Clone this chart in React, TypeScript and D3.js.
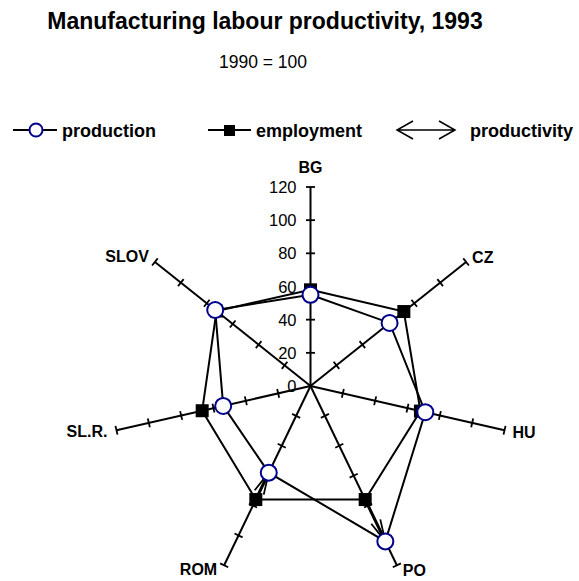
import React from "react";
import * as d3 from "d3";

const width = 579;
const height = 581;

// radar categories, clockwise from the top
const categories = ["BG", "CZ", "HU", "PO", "ROM", "SL.R.", "SLOV"];
// 1990 = 100
const production = [55, 61, 71, 104, 58, 54, 73.5];
const employment = [58, 72, 68, 76, 76, 67, 72.5];
// arrows drawn only where the change is large
const arrowCats = ["PO", "ROM"];
const ticks = [0, 20, 40, 60, 80, 100, 120];

const cx = 310.5;
const cy = 386;
const radius = 199;
const font = "'Liberation Sans', Arial, sans-serif";

const App = () => {
  const r = d3.scaleLinear().domain([0, 120]).range([0, radius]);
  const angle = d3.scalePoint().domain(categories).range([0, (2 * Math.PI * 6) / 7]);

  const pt = (cat: string, v: number): [number, number] => {
    const a = angle(cat)!;
    return [cx + r(v) * Math.sin(a), cy - r(v) * Math.cos(a)];
  };

  const line = d3.line().curve(d3.curveLinearClosed);
  const prodPts = categories.map((c, i) => pt(c, production[i]));
  const empPts = categories.map((c, i) => pt(c, employment[i]));

  // label offsets from the end of each axis
  const labelPos: Record<string, { dx: number; dy: number; anchor: string }> = {
    BG: { dx: 0, dy: -14, anchor: "middle" },
    CZ: { dx: 6, dy: 1, anchor: "start" },
    HU: { dx: 8, dy: 8, anchor: "start" },
    PO: { dx: 6, dy: 11, anchor: "start" },
    ROM: { dx: -7, dy: 10, anchor: "end" },
    "SL.R.": { dx: -9, dy: 7, anchor: "end" },
    SLOV: { dx: -6, dy: 0, anchor: "end" },
  };

  const arrowHead = (from: [number, number], to: [number, number], len: number, half: number) => {
    const dx = to[0] - from[0];
    const dy = to[1] - from[1];
    const d = Math.hypot(dx, dy);
    const ux = dx / d, uy = dy / d;
    const bx = to[0] - ux * len, by = to[1] - uy * len;
    return [
      [bx - uy * half, by + ux * half],
      to,
      [bx + uy * half, by - ux * half],
    ] as [number, number][];
  };

  return (
    <svg width={width} height={height} style={{ position: "absolute", left: 0, top: 0 }} fontFamily={font}>
      <rect width={width} height={height} fill="white" />
      <text x={265} y={29} textAnchor="middle" fontSize={23} fontWeight="bold">
        Manufacturing labour productivity, 1993
      </text>
      <text x={263} y={68} textAnchor="middle" fontSize={17.5}>1990 = 100</text>

      {/* legend */}
      <g fontSize={18} fontWeight="bold">
        <line x1={13} x2={57} y1={130} y2={130} stroke="black" strokeWidth={2} />
        <circle cx={36} cy={130} r={6.5} fill="white" stroke="#00008b" strokeWidth={2} />
        <text x={62} y={137}>production</text>
        <line x1={208} x2={251} y1={130} y2={130} stroke="black" strokeWidth={2} />
        <rect x={224} y={125} width={11} height={11} fill="black" />
        <text x={256} y={137}>employment</text>
        <path d="M397,130 L455,130 M413,121 L397,130 L413,139 M439,121 L455,130 L439,139" fill="none" stroke="black" strokeWidth={1.5} />
        <text x={470} y={137}>productivity</text>
      </g>

      {/* axes */}
      {categories.map((c) => {
        const a = angle(c)!;
        const [ex, ey] = pt(c, 120);
        const px = Math.cos(a), py = Math.sin(a);
        const lp = labelPos[c];
        return (
          <g key={c}>
            <line x1={cx} y1={cy} x2={ex} y2={ey} stroke="black" strokeWidth={2} />
            {ticks.slice(1).map((t) => {
              const [tx, ty] = pt(c, t);
              return (
                <line key={t} x1={tx - px * 4.5} y1={ty - py * 4.5} x2={tx + px * 4.5} y2={ty + py * 4.5} stroke="black" strokeWidth={1.8} />
              );
            })}
            <text x={ex + lp.dx} y={ey + lp.dy} textAnchor={lp.anchor as any} fontSize={16} fontWeight="bold">{c}</text>
          </g>
        );
      })}

      {/* value labels on the BG axis */}
      {ticks.map((t) => (
        <text key={t} x={cx - 14} y={cy - r(t) + 6} textAnchor="end" fontSize={16.5}>{t}</text>
      ))}

      <path d={line(empPts) ?? ""} fill="none" stroke="black" strokeWidth={2} />
      <path d={line(prodPts) ?? ""} fill="none" stroke="black" strokeWidth={2} />

      {/* productivity arrows */}
      {arrowCats.map((c) => {
        const i = categories.indexOf(c);
        const from = empPts[i];
        const to = prodPts[i];
        const head = arrowHead(from, to, 22, 5);
        return (
          <g key={c}>
            <line x1={from[0]} y1={from[1]} x2={to[0]} y2={to[1]} stroke="black" strokeWidth={3} />
            <path d={d3.line()(head) ?? ""} fill="none" stroke="black" strokeWidth={1.8} />
          </g>
        );
      })}

      {empPts.map((p, i) => (
        <rect key={i} x={p[0] - 6.5} y={p[1] - 6.5} width={13} height={13} fill="black" />
      ))}
      {prodPts.map((p, i) => (
        <circle key={i} cx={p[0]} cy={p[1]} r={8} fill="white" stroke="#00008b" strokeWidth={2} />
      ))}
    </svg>
  );
};

export default App;
